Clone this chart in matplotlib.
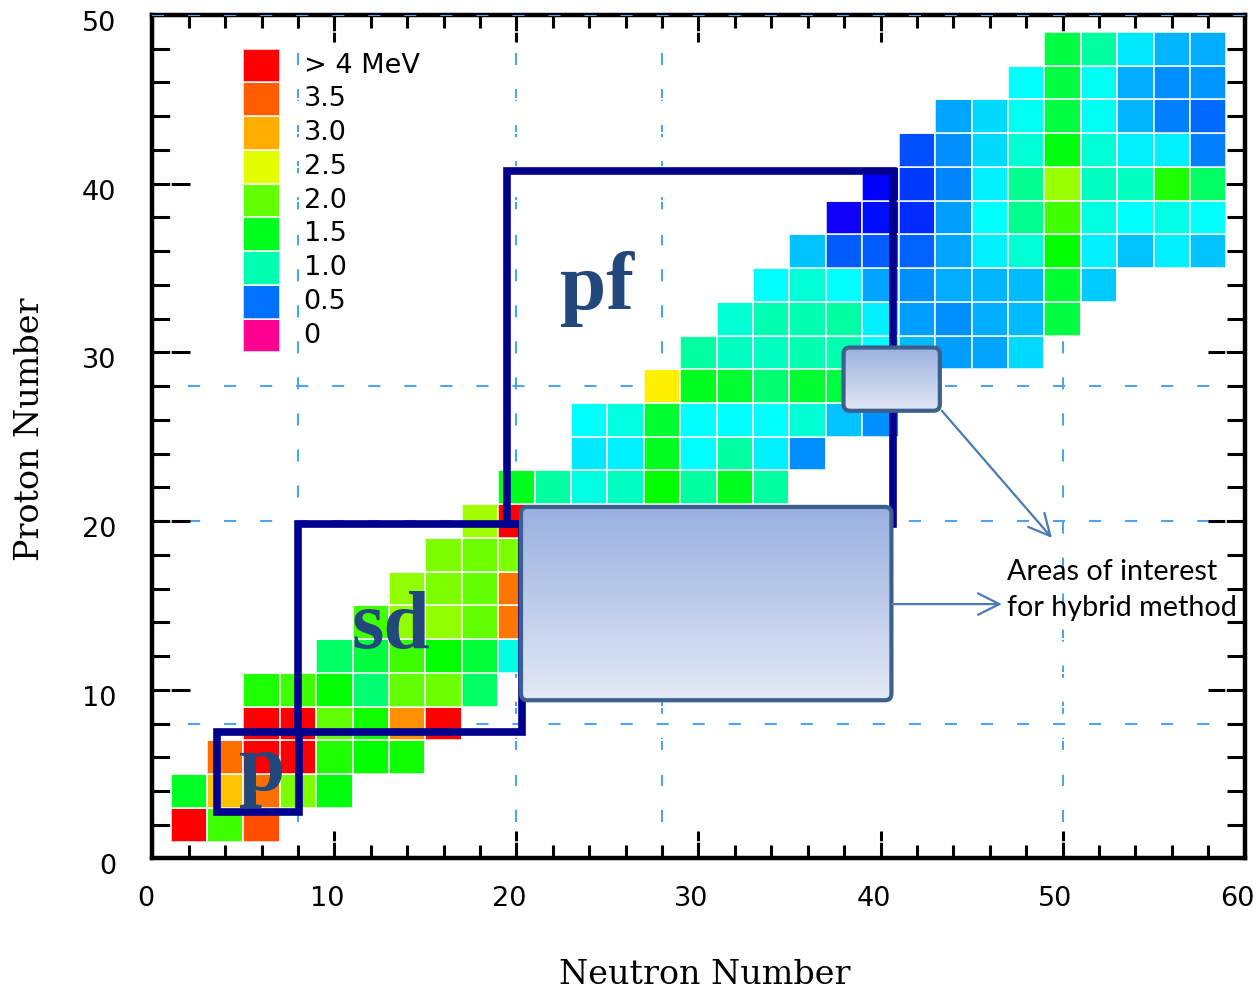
import numpy as np
import matplotlib.pyplot as plt
from matplotlib.colors import LinearSegmentedColormap
from matplotlib.patches import Rectangle, FancyBboxPatch
from matplotlib.transforms import ScaledTranslation

plt.rcParams['font.family'] = ['DejaVu Sans']

# E(2+) of even-even nuclei in MeV, one row per proton number Z,
# starting at neutron number n_first and going up in steps of 2
z_rows = [2, 4, 6, 8, 10, 12, 14, 16, 18, 20, 22, 24,
          26, 28, 30, 32, 34, 36, 38, 40, 42, 44, 46, 48]
n_first = [2, 2, 4, 6, 6, 10, 12, 14, 16, 18, 20, 24,
           24, 28, 30, 32, 34, 36, 38, 40, 42, 44, 48, 50]
e2_rows = [
    [4.2, 1.87, 3.58],
    [1.48, 2.9, 3.4, 2.12, 1.55],
    [3.4, 4.2, 4.2, 1.73, 1.6, 1.67],
    [4.2, 4.2, 2.0, 1.67, 3.2, 4.2],
    [1.73, 1.87, 1.6, 1.22, 2.0, 2.06, 1.28],
    [1.28, 1.4, 1.85, 1.6, 1.42, 0.88],
    [1.87, 2.19, 2.19, 2.0, 3.35],
    [2.19, 2.12, 2.0, 3.35],
    [2.12, 2.06, 2.12],
    [2.25, 4.2],
    [1.5, 1.06, 0.88, 0.96, 1.6, 1.06, 1.5, 1.06],
    [0.75, 0.77, 1.5, 0.8, 1.06, 0.78, 0.567],
    [0.8, 0.88, 1.44, 0.8, 0.8, 0.8, 0.92, 0.68, 0.567],
    [2.65, 1.5, 1.44, 1.22, 1.44, 1.39, 1.0],
    [1.06, 0.96, 0.96, 1.0, 1.0, 0.8, 0.67, 0.6, 0.62, 0.72],
    [0.92, 1.0, 1.0, 1.06, 0.77, 0.6, 0.567, 0.634, 0.67, 1.39],
    [0.8, 0.92, 0.8, 0.62, 0.567, 0.634, 0.65, 0.67, 1.44, 0.70],
    [0.68, 0.46, 0.46, 0.47, 0.62, 0.77, 0.92, 1.6, 0.77, 0.68, 0.77, 0.68],
    [0.235, 0.286, 0.357, 0.6, 0.8, 1.11, 1.87, 0.88, 0.8, 0.86, 0.8],
    [0.25, 0.39, 0.55, 0.77, 1.11, 2.22, 0.96, 0.96, 1.73, 1.28],
    [0.43, 0.567, 0.72, 0.92, 1.55, 0.92, 0.77, 0.77, 0.535],
    [0.62, 0.72, 0.84, 1.39, 0.84, 0.65, 0.535, 0.485],
    [0.8, 1.39, 0.84, 0.634, 0.567, 0.585],
    [1.39, 1.06, 0.75, 0.65, 0.634],
]

legend_values = [4.0, 3.5, 3.0, 2.5, 2.0, 1.5, 1.0, 0.5, 0.0]
legend_labels = ['> 4 MeV', '3.5', '3.0', '2.5', '2.0', '1.5', '1.0', '0.5', '0']

magic = [8, 20, 28, 50]

# colour scale used for the energies
anchors = [(0.0, '#ff0090'), (0.25, '#0000ff'), (0.5, '#0070ff'), (0.8, '#00ffff'),
           (1.0, '#00ffb0'), (1.5, '#00ff20'), (1.6, '#00ff00'), (2.0, '#60ff00'),
           (2.5, '#e0ff00'), (2.65, '#fff000'), (3.0, '#ffb000'), (3.5, '#ff6000'),
           (4.0, '#ff0000')]
cmap = LinearSegmentedColormap.from_list('e2', [(v / 4.0, c) for v, c in anchors])

grid = np.full((25, 30), np.nan)
for z, n0, es in zip(z_rows, n_first, e2_rows):
    j0 = n0 // 2 - 1
    grid[z // 2 - 1, j0:j0 + len(es)] = es
grid = grid[:24, :29]
n_edges = np.arange(1, 60, 2)
z_edges = np.arange(1, 50, 2)

fig = plt.figure(figsize=(12.59, 9.92), dpi=100)
ax = fig.add_axes([0.1211, 0.1346, 0.8674, 0.8503])

for m in magic:
    ax.axvline(m, color='#4da3f0', lw=1.5, dashes=(5.8, 11.5), zorder=1)
    ax.axhline(m, color='#4da3f0', lw=1.5, dashes=(5.8, 11.5), zorder=1 if m < 50 else 3)

ax.pcolormesh(n_edges, z_edges, np.ma.masked_invalid(grid), cmap=cmap, vmin=0, vmax=4,
              edgecolors=(1, 1, 1, 0.75), linewidth=1.2, zorder=2)

# colour key drawn inside the plot
ax.pcolormesh([5, 7], np.arange(30, 49, 2), np.array(legend_values[::-1]).reshape(-1, 1),
              cmap=cmap, vmin=0, vmax=4, edgecolors=(1, 1, 1, 0.75), linewidth=1.2, zorder=2)
for k, lab in enumerate(legend_labels):
    ax.text(8.3, 47 - 2 * k, lab, fontsize=19.5, ha='left', va='center', zorder=3)

# shell model spaces
navy = '#00008f'
for (x0, y0, x1, y1) in [(3.52, 2.76, 8.03, 7.48), (8.0, 7.48, 20.33, 19.83),
                         (19.48, 19.85, 40.67, 40.74)]:
    ax.add_patch(Rectangle((x0, y0), x1 - x0, y1 - y0, fill=False, ec=navy, lw=5.5,
                           zorder=4, joinstyle='miter'))

txt_kw = dict(fontsize=60, fontweight='bold', color='#22477d', family='Liberation Serif',
              ha='center', va='baseline', zorder=6)
ax.text(24.4, 32.6, 'pf', **txt_kw)
ax.text(13.1, 12.5, 'sd', **txt_kw)
ax.text(6.05, 4.05, 'p', **txt_kw)


def gradient_box(x0, y0, x1, y1):
    patch = FancyBboxPatch((x0, y0), x1 - x0, y1 - y0,
                           boxstyle='round,pad=0,rounding_size=0.35',
                           mutation_aspect=1.08, fc='none', ec='#3d5f8e', lw=3, zorder=8)
    ax.add_patch(patch)
    shade = LinearSegmentedColormap.from_list('shade', ['#98afdf', '#e3e9f5'])
    im = ax.imshow(np.linspace(0, 1, 256).reshape(-1, 1), cmap=shade, aspect='auto',
                   extent=[x0, x1, y0, y1], zorder=7, interpolation='bilinear')
    im.set_clip_path(patch)


gradient_box(20.25, 9.38, 40.6, 20.84)
gradient_box(37.97, 26.54, 43.26, 30.29)

arrow_kw = dict(arrowstyle='->,head_length=0.7,head_width=0.35', color='#4a7ab5', lw=1.6,
                shrinkA=0, shrinkB=0, mutation_scale=22)
ax.annotate('', xy=(49.42, 19.0), xytext=(43.37, 26.54), arrowprops=arrow_kw, zorder=9)
ax.annotate('', xy=(46.67, 15.08), xytext=(40.62, 15.08), arrowprops=arrow_kw, zorder=9)
note_kw = dict(fontsize=20.7, family='Lato', ha='left', va='baseline', zorder=9, clip_on=False)
ax.text(46.95, 16.5, 'Areas of interest', **note_kw)
ax.text(46.95, 14.35, 'for hybrid method', **note_kw)

ax.set_xlim(0, 60)
ax.set_ylim(0, 50)
ax.set_xticks(range(0, 61, 10))
ax.set_xticks(range(0, 61, 2), minor=True)
ax.set_yticks(range(0, 51, 10))
ax.set_yticks(range(0, 51, 2), minor=True)
ax.tick_params(which='both', direction='in', top=True, right=True, width=2.2, labelsize=19.5)
ax.tick_params(axis='x', which='major', length=19.5, pad=20)
ax.tick_params(axis='x', which='minor', length=9.5)
ax.tick_params(axis='y', which='major', length=27, pad=26)
ax.tick_params(axis='y', which='minor', length=13)
for sp in ax.spines.values():
    sp.set_linewidth(3.2)

for lab in ax.get_xticklabels():
    lab.set_transform(lab.get_transform() + ScaledTranslation(-0.07, 0, fig.dpi_scale_trans))
for lab in ax.get_yticklabels():
    lab.set_transform(lab.get_transform() + ScaledTranslation(0, -0.06, fig.dpi_scale_trans))

fig.text(0.56, 0.017, 'Neutron Number', ha='center', va='center', fontsize=24,
         family='DejaVu Serif')
fig.text(0.0238, 0.567, 'Proton Number', ha='center', va='center', fontsize=24,
         family='DejaVu Serif', rotation=90)

fig.savefig('out.png', dpi=100)
